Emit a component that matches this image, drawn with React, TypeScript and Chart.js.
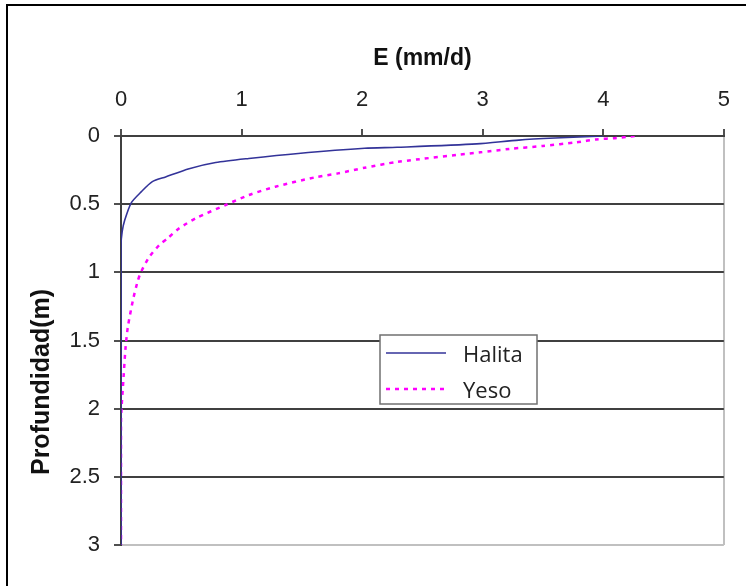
import React, { useEffect, useRef } from 'react';
import { Chart, registerables } from 'chart.js';

Chart.register(...registerables);

// ---- data ----
const xTitle = 'E (mm/d)';
const yTitle = 'Profundidad(m)';
const seriesNames = ['Halita', 'Yeso'];

const xMin = 0;
const xMax = 5;
const xStep = 1;
const yMin = 0;
const yMax = 3;
const yStep = 0.5;

const halitaE = [4.0, 3.6, 3.3, 2.95, 2.29, 2.02, 1.47, 1.06, 0.785, 0.565, 0.37, 0.26, 0.167, 0.085, 0.03, 0.01, 0, 0];
const halitaDepth = [0, 0.015, 0.03, 0.058, 0.083, 0.09, 0.128, 0.165, 0.195, 0.24, 0.3, 0.335, 0.41, 0.49, 0.62, 0.7, 0.8, 3.0];

const yesoE = [4.26, 4.11, 3.94, 3.78, 3.5, 3.22, 2.98, 2.29, 2.02, 1.8, 1.61, 1.28, 1.06, 0.867, 0.62, 0.483, 0.387, 0.318, 0.236, 0.167, 0.14, 0.1, 0.057, 0.038, 0.016, 0.005, 0, 0];
const yesoDepth = [0, 0.015, 0.025, 0.046, 0.073, 0.095, 0.12, 0.19, 0.233, 0.274, 0.303, 0.372, 0.433, 0.506, 0.604, 0.677, 0.75, 0.8, 0.885, 0.995, 1.06, 1.2, 1.4, 1.55, 1.84, 1.99, 2.1, 3.0];

const FONT = '"Liberation Sans", Arial, sans-serif';

const framePlugin = {
  id: 'frameAndExtras',
  beforeDraw(chart: any) {
    const ctx = chart.ctx;
    ctx.save();
    ctx.fillStyle = '#ffffff';
    ctx.fillRect(0, 0, chart.width, chart.height);
    ctx.strokeStyle = '#000000';
    ctx.lineWidth = 2;
    ctx.beginPath();
    ctx.moveTo(6, 5);
    ctx.lineTo(chart.width, 5);
    ctx.moveTo(7, 4);
    ctx.lineTo(7, chart.height);
    ctx.stroke();
    ctx.restore();
  },
  afterDraw(chart: any) {
    const ctx = chart.ctx;
    // y axis title
    ctx.save();
    ctx.translate(42, 382);
    ctx.rotate(-Math.PI / 2);
    ctx.font = 'bold 25px ' + FONT;
    ctx.fillStyle = '#111111';
    ctx.textAlign = 'center';
    ctx.textBaseline = 'middle';
    ctx.fillText(yTitle, 0, 0);
    ctx.restore();

    // legend box
    const bx = 380, by = 335, bw = 157, bh = 69;
    ctx.save();
    ctx.fillStyle = '#ffffff';
    ctx.fillRect(bx, by, bw, bh);
    ctx.strokeStyle = '#707070';
    ctx.lineWidth = 1.5;
    ctx.strokeRect(bx, by, bw, bh);
    const rows = [353, 389];
    chart.data.datasets.forEach((ds: any, i: number) => {
      const y = rows[i];
      ctx.save();
      ctx.strokeStyle = ds.borderColor;
      ctx.lineWidth = ds.borderWidth;
      ctx.setLineDash(ds.borderDash || []);
      ctx.beginPath();
      ctx.moveTo(386, y);
      ctx.lineTo(446, y);
      ctx.stroke();
      ctx.restore();
      ctx.font = '22px "Open Sans", sans-serif';
      ctx.fillStyle = '#222222';
      ctx.textAlign = 'left';
      ctx.textBaseline = 'middle';
      ctx.fillText(ds.label, 463, y + 3);
    });
    ctx.restore();
  },
};

export default function App() {
  const canvasRef = useRef<HTMLCanvasElement | null>(null);

  useEffect(() => {
    if (!canvasRef.current) return;
    const halita = halitaE.map((e, i) => ({ x: e, y: halitaDepth[i] }));
    const yeso = yesoE.map((e, i) => ({ x: e, y: yesoDepth[i] }));
    const chart = new Chart(canvasRef.current, {
      type: 'scatter',
      data: {
        datasets: [
          {
            label: seriesNames[0],
            data: halita,
            showLine: true,
            borderColor: '#333399',
            backgroundColor: '#333399',
            borderWidth: 1.6,
            pointRadius: 0,
            tension: 0.25,
          },
          {
            label: seriesNames[1],
            data: yeso,
            showLine: true,
            borderColor: '#ff00ff',
            backgroundColor: '#ff00ff',
            borderWidth: 2.5,
            borderDash: [4, 5],
            pointRadius: 0,
            tension: 0.25,
          },
        ],
      },
      options: {
        animation: false,
        responsive: false,
        layout: { padding: { left: 0, top: 0, right: 18, bottom: 41 } },
        plugins: {
          legend: { display: false },
          tooltip: { enabled: false },
        },
        scales: {
          x: {
            type: 'linear',
            position: 'top',
            min: xMin,
            max: xMax,
            afterFit: (scale: any) => {
              scale.height = 136;
            },
            ticks: {
              stepSize: xStep,
              padding: 16,
              color: '#222222',
              font: { family: FONT, size: 22 },
              callback: (v: any) => String(Number(v)),
            },
            grid: {
              color: (c: any) => (c.tick && c.tick.value === xMax ? '#c0c0c0' : 'rgba(0,0,0,0)'),
              tickColor: '#505050',
              lineWidth: 2,
              tickLength: 7,
            },
            border: { color: '#404040', width: 2 },
            title: {
              display: true,
              text: xTitle,
              color: '#111111',
              font: { family: FONT, size: 23, weight: 'bold' },
              padding: { top: 45, bottom: 0 },
            },
          },
          y: {
            type: 'linear',
            reverse: true,
            min: yMin,
            max: yMax,
            afterFit: (scale: any) => {
              scale.width = 121;
            },
            ticks: {
              stepSize: yStep,
              padding: 14,
              color: '#222222',
              font: { family: FONT, size: 22 },
              callback: (v: any) => String(Number(v)),
            },
            grid: {
              color: (c: any) => (c.tick && c.tick.value === yMax ? '#c0c0c0' : '#404040'),
              tickColor: '#505050',
              lineWidth: 2,
              tickLength: 7,
            },
            border: { color: '#404040', width: 2 },
          },
        },
      },
      plugins: [framePlugin],
    });
    return () => chart.destroy();
  }, []);

  return (
    <div style={{ position: 'absolute', left: 0, top: 0, width: 746, height: 586, overflow: 'hidden' }}>
      <canvas ref={canvasRef} width={746} height={586} style={{ display: 'block' }} />
    </div>
  );
}
